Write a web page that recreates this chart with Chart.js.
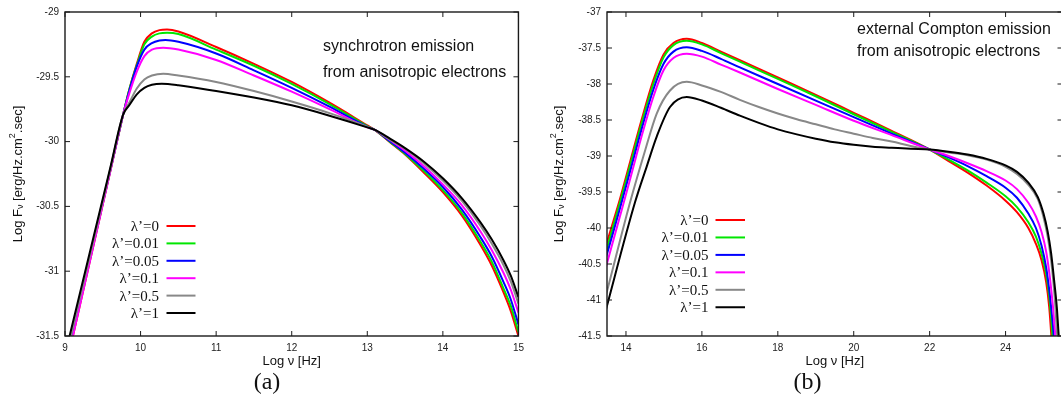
<!DOCTYPE html>
<html><head><meta charset="utf-8">
<script src="https://cdn.jsdelivr.net/npm/chart.js@4.4.1/dist/chart.umd.min.js"></script>
<style>
html,body{margin:0;padding:0;background:#fff;overflow:hidden;width:1061px;height:403px;position:relative;}
canvas{position:absolute;top:0;}
#ca{left:0;} #cb{left:530px;}
</style></head><body>
<canvas id="ca" width="530" height="403"></canvas>
<canvas id="cb" width="560" height="403"></canvas>
<script>
// ---------- data ----------
const seriesLabels = ["λ’=0", "λ’=0.01", "λ’=0.05", "λ’=0.1", "λ’=0.5", "λ’=1"];
const seriesColors = ["#ff0000", "#00e600", "#0000ff", "#ff00ff", "#888888", "#000000"];

const synXTicks = [9, 10, 11, 12, 13, 14, 15];
const synYTicks = [-31.5, -31, -30.5, -30, -29.5, -29];
const ecXTicks = [14, 16, 18, 20, 22, 24];
const ecYTicks = [-41.5, -41, -40.5, -40, -39.5, -39, -38.5, -38, -37.5, -37];

// synchrotron emission, [log nu, log F]
const syn0 = [[9.0,-31.77],[9.6,-30.227],[9.77,-29.79],[9.85,-29.6],[9.95,-29.4],[10.05,-29.23],[10.15,-29.165],[10.25,-29.14],[10.35,-29.135],[10.5,-29.15],[11,-29.27],[11.5,-29.4],[12,-29.54],[12.5,-29.7],[13,-29.875],[13.1,-29.91],[13.3,-30.005],[13.5,-30.1],[13.75,-30.24],[14,-30.39],[14.25,-30.57],[14.5,-30.8],[14.65,-30.96],[14.8,-31.16],[14.9,-31.31],[15,-31.5]];
const syn001 = [[9.0,-31.74],[9.6,-30.22],[9.77,-29.79],[9.85,-29.6],[9.95,-29.41],[10.05,-29.25],[10.15,-29.19],[10.25,-29.165],[10.35,-29.16],[10.5,-29.17],[11,-29.29],[11.5,-29.415],[12,-29.555],[12.5,-29.71],[13,-29.88],[13.1,-29.91],[13.3,-30.002],[13.5,-30.095],[13.75,-30.227],[14,-30.375],[14.25,-30.55],[14.5,-30.775],[14.65,-30.93],[14.8,-31.13],[14.9,-31.27],[15,-31.47]];
const syn005 = [[9.0,-31.74],[9.6,-30.22],[9.77,-29.79],[9.85,-29.61],[9.95,-29.42],[10.05,-29.29],[10.15,-29.24],[10.25,-29.22],[10.33,-29.216],[10.5,-29.23],[11,-29.32],[11.5,-29.45],[12,-29.585],[12.5,-29.73],[13,-29.885],[13.1,-29.91],[13.3,-29.997],[13.5,-30.085],[13.75,-30.21],[14,-30.35],[14.25,-30.523],[14.5,-30.74],[14.65,-30.89],[14.8,-31.08],[14.9,-31.22],[15,-31.41]];
const syn01 = [[9.0,-31.77],[9.6,-30.227],[9.77,-29.79],[9.85,-29.63],[9.95,-29.46],[10.05,-29.34],[10.15,-29.29],[10.3,-29.275],[10.5,-29.29],[11,-29.37],[11.5,-29.49],[12,-29.615],[12.5,-29.75],[13,-29.89],[13.1,-29.91],[13.3,-29.988],[13.5,-30.07],[13.75,-30.19],[14,-30.33],[14.25,-30.49],[14.5,-30.695],[14.65,-30.84],[14.8,-31.01],[14.9,-31.145],[15,-31.32]];
const syn05 = [[9.0,-31.698],[9.6,-30.21],[9.77,-29.79],[9.85,-29.7],[9.95,-29.59],[10.05,-29.52],[10.15,-29.49],[10.3,-29.476],[10.5,-29.49],[11,-29.54],[11.5,-29.61],[12,-29.69],[12.5,-29.78],[13,-29.885],[13.1,-29.91],[13.3,-29.985],[13.5,-30.057],[13.75,-30.168],[14,-30.3],[14.25,-30.456],[14.5,-30.651],[14.65,-30.79],[14.8,-30.95],[14.9,-31.08],[15,-31.25]];
const syn1 = [[9.0,-31.646],[9.6,-30.2],[9.77,-29.79],[9.85,-29.72],[9.95,-29.635],[10.05,-29.585],[10.15,-29.562],[10.28,-29.554],[10.5,-29.565],[11,-29.61],[11.5,-29.66],[12,-29.72],[12.5,-29.8],[13,-29.89],[13.1,-29.91],[13.3,-29.977],[13.5,-30.05],[13.75,-30.155],[14,-30.283],[14.25,-30.436],[14.5,-30.625],[14.65,-30.758],[14.8,-30.913],[14.9,-31.037],[15,-31.2]];

// external Compton emission, [log nu, log F]
const ec0 = [[13.3,-40.58],[13.5,-40.2],[13.84,-39.6],[14.11,-39.08],[14.41,-38.5],[14.72,-37.95],[14.99,-37.59],[15.25,-37.43],[15.6,-37.37],[16,-37.43],[16.5,-37.55],[17,-37.67],[18,-37.91],[19,-38.15],[20,-38.4],[21,-38.65],[22,-38.91],[22.5,-39.07],[23,-39.23],[23.5,-39.41],[24,-39.62],[24.3,-39.78],[24.6,-40.0],[24.8,-40.22],[24.95,-40.45],[25.07,-40.75],[25.15,-41.1],[25.2,-41.45],[25.24,-41.8]];
const ec001 = [[13.3,-40.66],[13.5,-40.28],[13.84,-39.65],[14.11,-39.13],[14.41,-38.55],[14.72,-38.0],[14.99,-37.63],[15.25,-37.46],[15.6,-37.4],[16,-37.45],[16.5,-37.57],[17,-37.69],[18,-37.93],[19,-38.17],[20,-38.42],[21,-38.665],[22,-38.91],[22.5,-39.05],[23,-39.2],[23.5,-39.37],[24,-39.56],[24.3,-39.71],[24.6,-39.92],[24.8,-40.12],[24.95,-40.36],[25.07,-40.64],[25.15,-40.95],[25.23,-41.45],[25.27,-41.8]];
const ec005 = [[13.3,-40.74],[13.5,-40.36],[13.84,-39.73],[14.11,-39.21],[14.41,-38.63],[14.72,-38.08],[14.99,-37.72],[15.25,-37.55],[15.6,-37.49],[16,-37.54],[16.5,-37.65],[17,-37.77],[18,-38.0],[19,-38.23],[20,-38.46],[21,-38.69],[22,-38.91],[22.5,-39.02],[23,-39.14],[23.5,-39.28],[24,-39.44],[24.3,-39.58],[24.6,-39.8],[24.8,-40.0],[24.95,-40.25],[25.07,-40.55],[25.16,-40.9],[25.22,-41.2],[25.27,-41.49],[25.31,-41.8]];
const ec01 = [[13.3,-40.88],[13.5,-40.49],[13.84,-39.84],[14.11,-39.32],[14.41,-38.73],[14.72,-38.18],[14.99,-37.81],[15.25,-37.64],[15.6,-37.58],[16,-37.62],[16.5,-37.73],[17,-37.84],[18,-38.07],[19,-38.29],[20,-38.51],[21,-38.71],[22,-38.91],[22.5,-39.0],[23,-39.1],[23.5,-39.21],[24,-39.34],[24.3,-39.46],[24.6,-39.65],[24.8,-39.84],[24.95,-40.06],[25.07,-40.33],[25.17,-40.7],[25.25,-41.1],[25.31,-41.49],[25.36,-41.8]];
const ec05 = [[13.3,-41.28],[13.5,-40.88],[14.11,-39.64],[14.5,-38.93],[14.81,-38.41],[15.16,-38.09],[15.6,-37.97],[16,-38.02],[16.5,-38.11],[17,-38.22],[17.5,-38.32],[18,-38.41],[18.5,-38.49],[19,-38.56],[19.5,-38.63],[20,-38.69],[20.5,-38.75],[21,-38.8],[21.5,-38.86],[22,-38.91],[22.5,-38.95],[23,-38.99],[23.5,-39.05],[24,-39.15],[24.3,-39.25],[24.6,-39.4],[24.85,-39.6],[25.0,-39.85],[25.11,-40.12],[25.2,-40.45],[25.25,-40.7],[25.3,-41.0],[25.36,-41.49],[25.41,-41.8]];
const ec1 = [[13.3,-41.48],[13.5,-41.08],[14.24,-39.64],[14.55,-39.14],[14.81,-38.73],[15.16,-38.32],[15.6,-38.18],[16,-38.23],[16.5,-38.33],[17,-38.44],[17.5,-38.54],[18,-38.63],[18.5,-38.7],[19,-38.76],[19.5,-38.81],[20,-38.845],[20.5,-38.87],[21,-38.885],[21.5,-38.9],[22,-38.91],[22.5,-38.94],[23,-38.98],[23.5,-39.04],[24,-39.13],[24.3,-39.22],[24.6,-39.37],[24.85,-39.57],[25.0,-39.8],[25.11,-40.05],[25.2,-40.35],[25.29,-40.78],[25.35,-41.1],[25.4,-41.49],[25.45,-41.8]];

const synSeries = [syn0, syn001, syn005, syn01, syn05, syn1];
const ecSeries = [ec0, ec001, ec005, ec01, ec05, ec1];

// ---------- drawing ----------
const SANS = '"Liberation Sans", Arial, Helvetica, sans-serif';
const SERIF = '"Liberation Serif", "DejaVu Serif", serif';

function segWidth(ctx, segs){
  let w = 0;
  segs.forEach(s => { ctx.font = s.size + 'px ' + SANS; w += ctx.measureText(s.t).width; });
  return w;
}
function drawSegs(ctx, segs, x0){
  let x = x0;
  segs.forEach(s => { ctx.font = s.size + 'px ' + SANS; ctx.fillText(s.t, x, s.dy || 0); x += ctx.measureText(s.t).width; });
}

function makeDecor(cfg){
  return {
    id: 'decor',
    afterDraw(chart){
      const ctx = chart.ctx, a = chart.chartArea, xs = chart.scales.x, ys = chart.scales.y;
      ctx.save();
      // frame
      ctx.strokeStyle = '#1a1a1a'; ctx.lineWidth = 1.4;
      ctx.strokeRect(a.left, a.top, a.right - a.left, a.bottom - a.top);
      // inward ticks on all four sides
      ctx.lineWidth = 1; ctx.beginPath();
      xs.ticks.forEach(t => { const p = xs.getPixelForValue(t.value);
        ctx.moveTo(p, a.bottom); ctx.lineTo(p, a.bottom - 5);
        ctx.moveTo(p, a.top); ctx.lineTo(p, a.top + 5); });
      ys.ticks.forEach(t => { const p = ys.getPixelForValue(t.value);
        ctx.moveTo(a.left, p); ctx.lineTo(a.left + 5, p);
        ctx.moveTo(a.right, p); ctx.lineTo(a.right - 5, p); });
      ctx.stroke();

      ctx.fillStyle = '#111';
      // x title
      ctx.textAlign = 'center'; ctx.textBaseline = 'middle';
      ctx.font = '13px ' + SANS;
      ctx.fillText('Log ν [Hz]', (a.left + a.right) / 2, cfg.xTitleY);
      // y title (rotated, with sub/superscript)
      const segs = [{t:'Log F', size:13}, {t:'ν', size:9, dy:3}, {t:' [erg/Hz.cm', size:13}, {t:'2', size:9, dy:-5}, {t:'.sec]', size:13}];
      ctx.save();
      ctx.translate(cfg.yTitleX, (a.top + a.bottom) / 2);
      ctx.rotate(-Math.PI / 2);
      ctx.textAlign = 'left'; ctx.textBaseline = 'middle';
      const w = segWidth(ctx, segs);
      drawSegs(ctx, segs, -w / 2);
      ctx.restore();
      // notes
      ctx.textAlign = 'left'; ctx.textBaseline = 'middle';
      ctx.font = '16px ' + SANS;
      cfg.notes.forEach(n => ctx.fillText(n.t, n.x, n.y));
      // legend
      const L = cfg.legend;
      chart.data.datasets.forEach((ds, i) => {
        const yy = L.y0 + i * L.dy;
        ctx.font = '15px ' + SERIF; ctx.textAlign = 'right'; ctx.fillStyle = '#111';
        ctx.fillText(ds.label, L.textRight, yy + 1);
        ctx.strokeStyle = ds.borderColor; ctx.lineWidth = 2;
        ctx.beginPath(); ctx.moveTo(L.x0, yy); ctx.lineTo(L.x1, yy); ctx.stroke();
      });
      // panel label
      ctx.fillStyle = '#111'; ctx.textAlign = 'center'; ctx.textBaseline = 'middle';
      ctx.font = '24px ' + SERIF;
      ctx.fillText(cfg.panel, cfg.panelX, cfg.panelY);
      ctx.restore();
    }
  };
}

function fmt(v){ return String(Number(v.toFixed(2))); }

function build(canvasId, series, xr, yr, xTicks, yTicks, xStep, yStep, yAxisW, padRight, decor){
  const datasets = series.map((s, i) => ({
    label: seriesLabels[i],
    data: s.map(p => ({x: p[0], y: p[1]})),
    borderColor: seriesColors[i],
    backgroundColor: seriesColors[i],
    borderWidth: 2,
    pointRadius: 0,
    fill: false,
    cubicInterpolationMode: 'monotone',
    order: series.length - i
  }));
  return new Chart(document.getElementById(canvasId), {
    type: 'line',
    data: { datasets },
    options: {
      responsive: false, animation: false, devicePixelRatio: 1,
      layout: { padding: { left: 0, right: padRight, top: 7, bottom: 0 } },
      plugins: { legend: { display: false }, tooltip: { enabled: false } },
      scales: {
        x: {
          type: 'linear', min: xr[0], max: xr[1],
          grid: { display: false, drawTicks: false }, border: { display: false },
          ticks: { stepSize: xStep, includeBounds: false, autoSkip: false, maxRotation: 0,
                   padding: 6, color: '#222', font: { family: SANS, size: 10 }, callback: fmt },
          afterBuildTicks: sc => { sc.ticks = xTicks.map(v => ({value: v})); },
          afterFit: sc => { sc.height = 67; }
        },
        y: {
          type: 'linear', min: yr[0], max: yr[1],
          grid: { display: false, drawTicks: false }, border: { display: false },
          ticks: { stepSize: yStep, includeBounds: false, autoSkip: false,
                   padding: 6, color: '#222', font: { family: SANS, size: 10 }, callback: fmt },
          afterBuildTicks: sc => { sc.ticks = yTicks.map(v => ({value: v})); },
          afterFit: sc => { sc.width = yAxisW; }
        }
      }
    },
    plugins: [makeDecor(decor)]
  });
}

build('ca', synSeries, [9, 15], [-31.5, -29], synXTicks, synYTicks, 1, 0.5, 65, 9.5, {
  xTitleY: 361, yTitleX: 18, panel: '(a)', panelX: 267, panelY: 383,
  notes: [{t:'synchrotron emission', x:323, y:47}, {t:'from anisotropic electrons', x:323, y:73}],
  legend: { textRight: 159, x0: 166.5, x1: 195.5, y0: 226, dy: 17.4 }
});
build('cb', ecSeries, [13.5, 25.5], [-41.5, -37], ecXTicks, ecYTicks, 2, 0.5, 77, 27.5, {
  xTitleY: 361, yTitleX: 29, panel: '(b)', panelX: 277.5, panelY: 383,
  notes: [{t:'external Compton emission', x:327, y:29.5}, {t:'from anisotropic electrons', x:327, y:52}],
  legend: { textRight: 178.5, x0: 185.5, x1: 215, y0: 220, dy: 17.45 }
});
</script>
</body></html>
